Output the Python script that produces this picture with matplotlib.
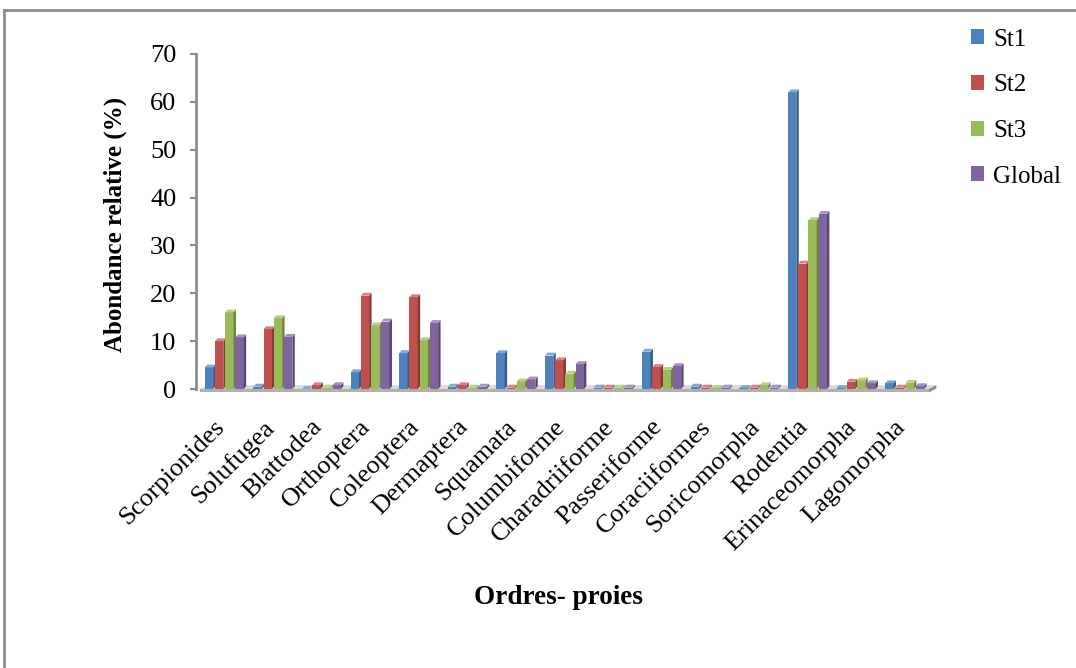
import matplotlib
matplotlib.use("Agg")
import matplotlib.pyplot as plt
from matplotlib.patches import Polygon
from matplotlib.lines import Line2D
import matplotlib.colors as mcolors
import numpy as np

plt.rcParams['font.family'] = ['Liberation Serif', 'DejaVu Serif']

orders = ['Scorpionides', 'Solufugea', 'Blattodea', 'Orthoptera', 'Coleoptera',
          'Dermaptera', 'Squamata', 'Columbiforme', 'Charadriiforme', 'Passeriforme',
          'Coraciiformes', 'Soricomorpha', 'Rodentia', 'Erinaceomorpha', 'Lagomorpha']

st1 = [4.5, 0.5, 0.0, 3.5, 7.5, 0.5, 7.5, 7.0, 0.3, 7.8, 0.5, 0.2, 62.0, 0.2, 1.2]
st2 = [10.0, 12.5, 0.8, 19.5, 19.2, 0.8, 0.3, 6.0, 0.3, 4.6, 0.3, 0.3, 26.2, 1.5, 0.3]
st3 = [16.0, 14.8, 0.3, 13.3, 10.2, 0.3, 1.6, 3.2, 0.3, 4.0, 0.2, 0.8, 35.3, 1.8, 1.3]
glob = [10.8, 10.9, 0.8, 14.1, 13.8, 0.5, 2.0, 5.2, 0.3, 4.8, 0.3, 0.3, 36.6, 1.2, 0.6]

series = [('St1', st1, '#4F81BD'), ('St2', st2, '#C0504D'),
          ('St3', st3, '#9BBB59'), ('Global', glob, '#8064A2')]

W, H = 1076, 668
fig = plt.figure(figsize=(W / 100, H / 100), dpi=100)
ax = fig.add_axes([200 / W, 1 - 389 / H, 729 / W, 335 / H])

x = np.arange(len(orders))
width = 0.17
step = 0.21
dx, dy = 0.05, 0.6


def shade(c, f):
    r, g, b = mcolors.to_rgb(c)
    if f < 1:
        return (r * f, g * f, b * f)
    return (r + (1 - r) * (f - 1), g + (1 - g) * (f - 1), b + (1 - b) * (f - 1))


# floor slab under the columns
ax.add_patch(Polygon([(-0.5, 0), (14.5, 0), (14.5 + 0.15, 0.8), (-0.5 + 0.15, 0.8)],
                     closed=True, fc='#d9d9d9', ec='none', zorder=1, clip_on=False))
ax.add_patch(Polygon([(-0.5, -0.7), (14.5, -0.7), (14.5, 0), (-0.5, 0)],
                     closed=True, fc='#b0b0b0', ec='none', zorder=1, clip_on=False))
ax.add_patch(Polygon([(14.5, -0.7), (14.5 + 0.15, 0.1), (14.5 + 0.15, 0.8), (14.5, 0)],
                     closed=True, fc='#8c8c8c', ec='none', zorder=1, clip_on=False))

for i, (name, vals, col) in enumerate(series):
    off = (i - 1.5) * step
    ax.bar(x + off, vals, width, color=col, zorder=3 + i, label=name)
    for xi, h in zip(x + off, vals):
        x0, x1 = xi - width / 2, xi + width / 2
        ax.add_patch(Polygon([(x1, 0), (x1 + dx, dy), (x1 + dx, h + dy), (x1, h)],
                             closed=True, fc=shade(col, 0.7), ec='none', zorder=3 + i))
        ax.add_patch(Polygon([(x0, h), (x1, h), (x1 + dx, h + dy), (x0 + dx, h + dy)],
                             closed=True, fc=shade(col, 1.3), ec='none', zorder=3 + i))

ax.set_xlim(-0.5, 14.5)
ax.set_ylim(0, 70)
ax.set_yticks(range(0, 71, 10))
ax.tick_params(axis='y', labelsize=19, length=4, width=1.5, color='#8c8c8c', pad=10)
ax.set_xticks(x)
ax.set_xticklabels([])
ax.tick_params(axis='x', length=0)
for s in ['top', 'right', 'bottom']:
    ax.spines[s].set_visible(False)
ax.spines['left'].set_color('#8c8c8c')
ax.spines['left'].set_linewidth(2)
ax.spines['left'].set_position(('outward', 3))

for xi, lab in zip(x, orders):
    ax.text(xi - 0.22, -5.6, lab, rotation=45, rotation_mode='anchor',
            ha='right', va='top', fontsize=19, clip_on=False)

ax.set_ylabel('Abondance relative (%)', fontsize=18, fontweight='bold')
ax.yaxis.set_label_coords(-0.1, 0.49)
fig.text(558 / W, 1 - 597 / H, 'Ordres- proies', fontsize=19.5, fontweight='bold',
         ha='center', va='center')

fig.legend(loc='upper left', bbox_to_anchor=(948 / W, 1 - 6 / H), frameon=False,
           fontsize=18, handlelength=0.55, handleheight=0.55, handletextpad=0.35,
           labelspacing=0.95)

# outer chart frame
fig.add_artist(Line2D([4 / W, 1], [1 - 10 / H, 1 - 10 / H], color='#8c8c8c', lw=2))
fig.add_artist(Line2D([4 / W, 4 / W], [0, 1 - 10 / H], color='#8c8c8c', lw=2))

fig.savefig('out.png', dpi=100)
